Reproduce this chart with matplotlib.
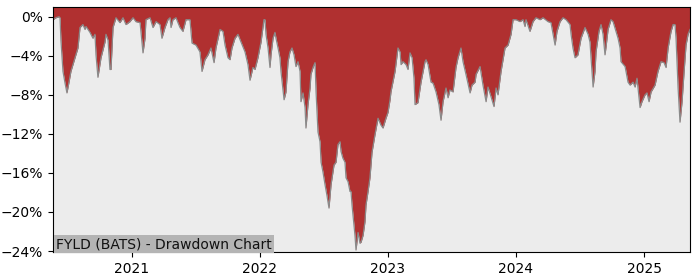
import matplotlib
matplotlib.use("Agg")
import matplotlib.pyplot as plt
import matplotlib.dates as mdates
from matplotlib.ticker import PercentFormatter
import pandas as pd
import numpy as np

title = "FYLD (BATS) - Drawdown Chart"

# time as decimal years
years = [
    2020.383, 2020.406, 2020.430, 2020.438, 2020.445, 2020.461, 2020.477, 2020.492, 2020.508, 2020.523,
    2020.555, 2020.578, 2020.594, 2020.617, 2020.633, 2020.641, 2020.672, 2020.695, 2020.711, 2020.719,
    2020.734, 2020.758, 2020.789, 2020.797, 2020.813, 2020.828, 2020.836, 2020.852, 2020.875, 2020.906,
    2020.930, 2020.953, 2020.984, 2021.008, 2021.031, 2021.063, 2021.070, 2021.086, 2021.102, 2021.109,
    2021.141, 2021.164, 2021.188, 2021.219, 2021.234, 2021.258, 2021.281, 2021.297, 2021.305, 2021.320,
    2021.344, 2021.359, 2021.375, 2021.398, 2021.422, 2021.453, 2021.461, 2021.469, 2021.500, 2021.531,
    2021.547, 2021.570, 2021.594, 2021.617, 2021.641, 2021.656, 2021.688, 2021.711, 2021.727, 2021.750,
    2021.766, 2021.781, 2021.805, 2021.828, 2021.852, 2021.883, 2021.906, 2021.922, 2021.945, 2021.961,
    2021.984, 2022.008, 2022.023, 2022.031, 2022.039, 2022.047, 2022.063, 2022.078, 2022.086, 2022.102,
    2022.117, 2022.125, 2022.141, 2022.156, 2022.164, 2022.188, 2022.203, 2022.219, 2022.234, 2022.250,
    2022.266, 2022.281, 2022.297, 2022.313, 2022.320, 2022.336, 2022.352, 2022.359, 2022.375, 2022.391,
    2022.398, 2022.414, 2022.430, 2022.438, 2022.453, 2022.469, 2022.477, 2022.492, 2022.508, 2022.523,
    2022.539, 2022.555, 2022.563, 2022.578, 2022.594, 2022.609, 2022.625, 2022.633, 2022.648, 2022.664,
    2022.672, 2022.688, 2022.703, 2022.711, 2022.719, 2022.742, 2022.750, 2022.766, 2022.781, 2022.789,
    2022.805, 2022.820, 2022.828, 2022.844, 2022.859, 2022.875, 2022.898, 2022.922, 2022.945, 2022.961,
    2022.984, 2023.000, 2023.016, 2023.023, 2023.055, 2023.078, 2023.094, 2023.102, 2023.117, 2023.141,
    2023.156, 2023.172, 2023.188, 2023.203, 2023.211, 2023.234, 2023.258, 2023.289, 2023.297, 2023.313,
    2023.336, 2023.352, 2023.375, 2023.398, 2023.414, 2023.430, 2023.453, 2023.469, 2023.484, 2023.508,
    2023.531, 2023.547, 2023.570, 2023.586, 2023.609, 2023.641, 2023.656, 2023.680, 2023.688, 2023.719,
    2023.742, 2023.766, 2023.781, 2023.805, 2023.828, 2023.844, 2023.859, 2023.883, 2023.914, 2023.938,
    2023.961, 2023.977, 2024.000, 2024.031, 2024.055, 2024.070, 2024.078, 2024.109, 2024.133, 2024.156,
    2024.188, 2024.211, 2024.250, 2024.273, 2024.305, 2024.320, 2024.344, 2024.367, 2024.391, 2024.422,
    2024.430, 2024.445, 2024.461, 2024.484, 2024.508, 2024.539, 2024.563, 2024.578, 2024.586, 2024.602,
    2024.617, 2024.625, 2024.648, 2024.664, 2024.680, 2024.695, 2024.703, 2024.719, 2024.742, 2024.758,
    2024.781, 2024.797, 2024.813, 2024.820, 2024.852, 2024.875, 2024.891, 2024.914, 2024.930, 2024.945,
    2024.969, 2024.984, 2025.008, 2025.023, 2025.039, 2025.055, 2025.086, 2025.109, 2025.133, 2025.156,
    2025.172, 2025.188, 2025.211, 2025.227, 2025.242, 2025.250, 2025.266, 2025.281, 2025.297, 2025.313,
    2025.328, 2025.344, 2025.359,
]

# drawdown in percent
drawdown = [
    -0.3, -0.1, 0.0, -0.1, -2.4, -5.6, -6.8, -7.8, -6.7, -5.6,
    -4.2, -3.2, -1.1, -0.8, -1.3, -1.0, -1.6, -2.2, -1.8, -3.9,
    -6.2, -4.2, -2.6, -1.8, -2.4, -5.4, -5.4, -1.1, -0.1, -0.6,
    -0.1, -0.8, -0.5, -0.1, -0.5, -0.6, -1.5, -3.7, -2.2, -0.3,
    -0.1, -1.1, -0.5, -0.8, -2.2, -1.1, -0.3, -0.1, -1.1, -0.3,
    -0.1, -0.6, -1.1, -1.5, -0.3, -0.3, -1.5, -2.7, -2.9, -3.6,
    -5.6, -4.4, -3.9, -3.2, -4.7, -3.2, -1.3, -1.5, -2.9, -4.2,
    -4.4, -3.2, -2.2, -1.8, -2.6, -3.6, -4.9, -6.5, -5.2, -5.4,
    -4.2, -2.6, -1.1, -0.3, -0.3, -1.8, -3.2, -5.2, -3.9, -2.2,
    -1.6, -2.2, -3.2, -4.2, -5.6, -8.5, -7.7, -4.6, -3.6, -3.2,
    -3.9, -5.1, -4.6, -5.6, -8.7, -7.8, -9.3, -11.4, -9.0, -7.3,
    -5.9, -5.2, -4.7, -7.7, -11.8, -12.8, -14.9, -15.9, -17.2, -18.3,
    -19.6, -17.2, -16.5, -15.2, -14.9, -13.1, -12.8, -13.8, -14.5, -14.9,
    -16.5, -16.9, -17.9, -17.9, -19.3, -22.4, -23.9, -22.1, -23.2, -23.1,
    -22.4, -21.0, -19.3, -17.9, -16.5, -13.9, -12.1, -10.4, -11.1, -11.4,
    -10.4, -9.8, -8.5, -7.7, -5.6, -3.2, -3.6, -4.9, -4.6, -4.9,
    -5.4, -3.7, -4.2, -6.3, -9.0, -8.8, -6.7, -4.6, -4.4, -4.9,
    -6.7, -6.8, -7.7, -9.0, -10.6, -8.7, -7.3, -8.3, -7.5, -7.7,
    -5.2, -4.2, -3.2, -4.6, -5.9, -7.8, -7.0, -6.7, -5.9, -5.1,
    -7.0, -8.7, -7.2, -8.2, -9.2, -7.3, -8.0, -5.6, -3.2, -2.9,
    -1.8, -0.3, -0.3, -0.5, -0.3, -1.0, -0.3, -1.5, -0.5, -0.1,
    -0.3, -0.1, -0.5, -0.6, -2.9, -1.5, -0.5, -0.1, -0.3, -0.8,
    -1.8, -3.2, -4.2, -3.9, -2.2, -1.1, -1.8, -2.6, -4.2, -7.2,
    -5.6, -3.6, -1.5, -0.8, -1.8, -3.9, -3.1, -1.3, -0.3, -0.5,
    -1.5, -2.2, -3.2, -4.6, -5.1, -6.7, -7.0, -6.7, -7.2, -6.3,
    -9.3, -8.7, -8.0, -7.8, -8.7, -7.7, -7.0, -5.6, -4.6, -4.7,
    -5.2, -3.2, -1.5, -0.8, -0.8, -2.2, -7.3, -10.8, -8.7, -5.6,
    -2.9, -1.8, -1.3,
]

yticks = [0, -4, -8, -12, -16, -20, -24]

dates = [pd.Timestamp("2021-01-01") + pd.Timedelta(days=(y - 2021) * 365.25) for y in years]
dd = np.array(drawdown)

y_bottom, y_top = -24.1, 1.0

fig = plt.figure(figsize=(7, 2.8), dpi=100)
ax = fig.add_axes([0.0757, 0.1, 0.91, 0.875])
ax.set_facecolor("#ececec")

ax.fill_between(dates, dd, y_top, color="#b03030", linewidth=0)
ax.plot(dates, dd, color="#8a8a8a", linewidth=0.9)

ax.set_xlim(dates[0], dates[-1])
ax.set_ylim(y_bottom, y_top)
ax.set_yticks(yticks)
ax.yaxis.set_major_formatter(PercentFormatter(xmax=100, decimals=0))
ax.xaxis.set_major_locator(mdates.YearLocator())
ax.xaxis.set_major_formatter(mdates.DateFormatter("%Y"))
ax.tick_params(labelsize=10)

ax.text(0.005, 0.004, title, transform=ax.transAxes, ha="left", va="bottom",
        fontsize=10, color="#111111",
        bbox=dict(facecolor="#b4b4b4", edgecolor="none", pad=1.5))

fig.savefig("out.png", dpi=100)
